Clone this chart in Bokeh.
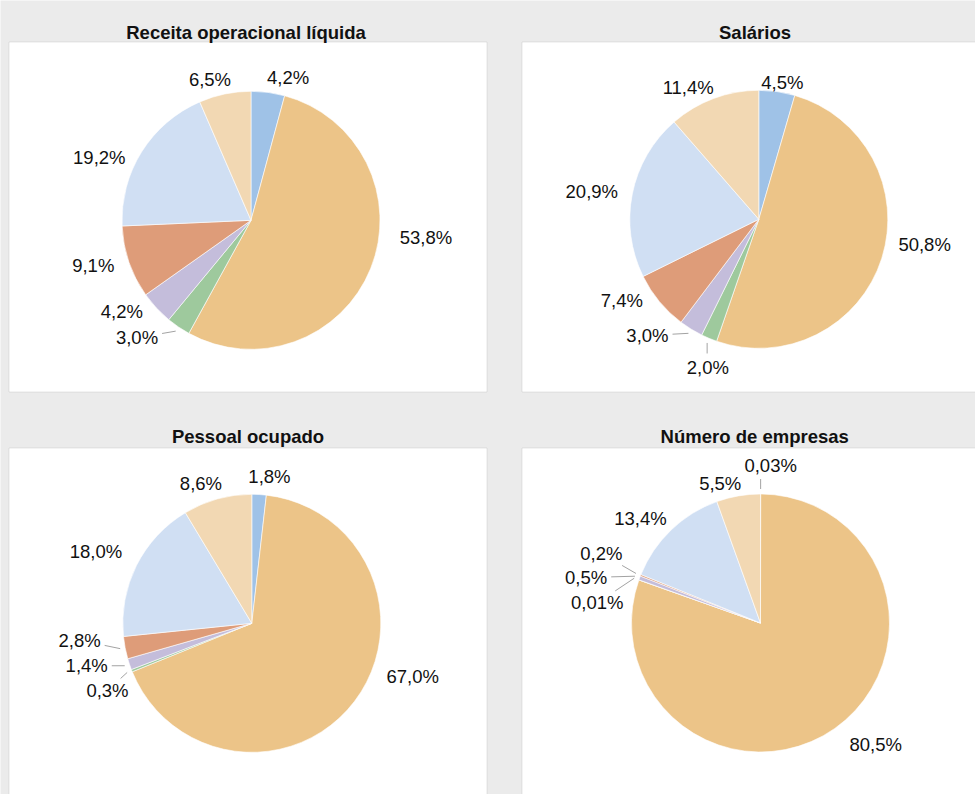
import math
from bokeh.plotting import figure
from bokeh.models import ColumnDataSource, Range1d, Label, BoxAnnotation
from bokeh.embed import file_html
from bokeh.resources import INLINE
from bokeh.core.properties import value

# ---------------- data ----------------
segments = ["Segmento 1", "Segmento 2", "Segmento 3", "Segmento 4",
            "Segmento 5", "Segmento 6", "Segmento 7"]
titles = ["Receita operacional líquida", "Salários", "Pessoal ocupado", "Número de empresas"]
receita = [4.2, 53.8, 3.0, 4.2, 9.1, 19.2, 6.5]
salarios = [4.5, 50.8, 2.0, 3.0, 7.4, 20.9, 11.4]
pessoal = [1.8, 67.0, 0.3, 1.4, 2.8, 18.0, 8.6]
empresas = [0.03, 80.5, 0.01, 0.5, 0.2, 13.4, 5.5]

# ---------------- style / layout (pixel units, y measured from top) ----------------
colors = ["#9fc2e7", "#ecc488", "#9ec99d", "#c4bddb", "#de9c79", "#d0dff3", "#f2d8b3"]
BG = "#ebebeb"
EDGE = "#b0b0b0"
LEADER = "#a3a3a3"
TXT = "#111111"
FONT = "Liberation Sans"
FS = 18.5
RADIUS = 129
LABEL_R = RADIUS + 24
W, H = 975, 794

panels = [
    dict(box=(8.5, 486.5, 41.5, 391.5), center=(250.5, 219.8), title_pos=(245.5, 32),
         nudge=[(17, 9), (33, -40), (-28, -9), (-17, -13), (-13, -4), (-22, 18), (-10, 9)],
         leaders=[2]),
    dict(box=(521.5, 1010, 41.5, 391.5), center=(758.3, 218.8), title_pos=(754.5, 32),
         nudge=[(2, 15), (20, -21), (8, 7), (-31, -14), (-19, -16), (-17, 2), (-17, 11)],
         leaders=[2, 3]),
    dict(box=(8.5, 486.5, 447.5, 830), center=(251.3, 622.8), title_pos=(247.5, 436),
         nudge=[(9, 6), (39, -39), (-2, 11), (-20, -6), (-22, -12), (-19, -3), (-10, 8)],
         leaders=[2, 3, 4]),
    dict(box=(521.5, 1010, 447.5, 830), center=(760.0, 622.5), title_pos=(754.2, 436),
         nudge=[(10, -5), (27, -4), (-19, 31), (-31, 8), (-17, -13), (-14, 6), (-14, 11)],
         leaders=[0, 2, 3, 4]),
]


def fmt(v):
    s = f"{v:.2f}" if v < 0.1 else f"{v:.1f}"
    return s.replace(".", ",") + "%"


def text_width(s):
    w = 0.0
    for ch in s:
        if ch.isdigit():
            w += 0.556
        elif ch == ",":
            w += 0.278
        elif ch == "%":
            w += 0.889
    return w * FS


def Y(sy):
    # convert a top-based pixel position to the figure's y coordinate
    return H - sy


p = figure(width=W, height=H, x_range=Range1d(0, W), y_range=Range1d(0, H),
           output_backend="svg", toolbar_location=None, title=None,
           x_axis_type=None, y_axis_type=None,
           min_border_left=0, min_border_right=0, min_border_top=0, min_border_bottom=0)
p.background_fill_color = BG
p.border_fill_color = BG
p.outline_line_color = None


def draw_panel(spec, title, vals):
    l, r, t, b = spec["box"]
    p.add_layout(BoxAnnotation(left=l, right=r, top=Y(t), bottom=Y(b),
                               fill_color="white", fill_alpha=1.0,
                               line_color=EDGE, line_width=1, level="underlay"))
    cx, cys = spec["center"]
    cy = Y(cys)

    total = sum(vals)
    starts, ends, mids = [], [], []
    cum = 0.0
    for v in vals:
        a0 = cum / total * 2 * math.pi
        cum += v
        a1 = cum / total * 2 * math.pi
        starts.append(math.pi / 2 - a0)
        ends.append(math.pi / 2 - a1)
        mids.append((a0 + a1) / 2)

    src = ColumnDataSource(dict(seg=segments, val=vals, start=starts, end=ends, color=colors))
    p.wedge(x=cx, y=cy, radius=RADIUS, start_angle="start", end_angle="end",
            direction="clock", fill_color="color", line_color="white", line_width=0.6,
            source=src)

    labels = [fmt(v) for v in vals]
    lx, ly = [], []
    for m, (ndx, ndy) in zip(mids, spec["nudge"]):
        lx.append(cx + LABEL_R * math.sin(m) + ndx)
        ly.append(cy + LABEL_R * math.cos(m) - ndy)
    lsrc = ColumnDataSource(dict(x=lx, y=ly, text=labels))
    p.text(x="x", y="y", text="text", source=lsrc, text_align="center",
           text_baseline="middle", text_font=value(FONT), text_font_size=f"{FS}px",
           text_color=TXT)

    x0, y0, x1, y1 = [], [], [], []
    for i in spec["leaders"]:
        m = mids[i]
        sx = cx + (RADIUS + 5) * math.sin(m)
        sy = cy + (RADIUS + 5) * math.cos(m)
        dx, dy = sx - lx[i], sy - ly[i]
        hw = text_width(labels[i]) / 2 + 4
        if abs(dx) < hw / 2:
            # label straight above/below the slice: vertical leader
            ex = sx
            ey = ly[i] + math.copysign(14, dy)
        else:
            hh = 12
            k = min(hw / abs(dx) if dx else 1e9, hh / abs(dy) if dy else 1e9)
            ex = lx[i] + k * dx
            ey = ly[i] + k * dy
        x0.append(sx)
        y0.append(sy)
        x1.append(ex)
        y1.append(ey)
    if x0:
        p.segment(x0=x0, y0=y0, x1=x1, y1=y1, line_color=LEADER, line_width=1)

    tx, tys = spec["title_pos"]
    p.add_layout(Label(x=tx, y=Y(tys), text=title, text_align="center",
                       text_baseline="alphabetic", text_font=FONT,
                       text_font_style="bold", text_font_size=f"{FS}px",
                       text_color=TXT))


series = [receita, salarios, pessoal, empresas]
for s, t, v in zip(panels, titles, series):
    draw_panel(s, t, v)

open("out.html", "w").write(file_html(p, INLINE))
